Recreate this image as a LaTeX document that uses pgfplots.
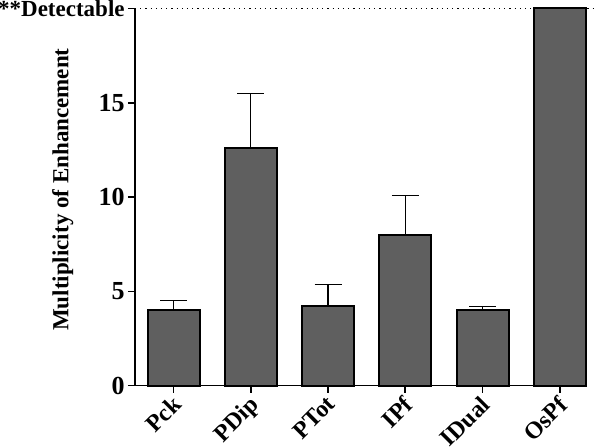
\documentclass[border=0pt]{standalone}
\usepackage{pgfplots}
\pgfplotsset{compat=1.18}
\usepackage{fontspec}
\setmainfont{Liberation Serif}
\definecolor{barfill}{HTML}{5F5F5F}
\begin{document}
\begin{tikzpicture}
\begin{axis}[
  at={(0,0)}, anchor=south west,
  scale only axis,
  width=225.5pt, height=188.6pt,
  xmin=-0.5, xmax=5.34,
  ymin=0, ymax=20,
  axis lines=left,
  axis line style={line width=0.8pt, -},
  clip=false,
  xtick={0,1,2,3,4,5},
  xticklabels={Pck,PDip,PTot,IPf,IDual,OsPf},
  ytick={0,5,10,15,20},
  yticklabels={0,5,10,15,{\fontsize{11.5}{13}\selectfont\raisebox{-2pt}{**Detectable}}},
  tick align=outside,
  major tick length=3.5pt,
  tick style={line width=0.8pt, black},
  /pgf/number format/assume math mode=true,
  tick label style={font=\fontsize{13}{15}\selectfont\bfseries},
  xticklabel style={font=\fontsize{12}{14}\selectfont\bfseries, rotate=45, anchor=north east, inner sep=1pt, xshift=-0.5pt, yshift=1.5pt},
  yticklabel style={inner sep=1.5pt},
  ylabel={Multiplicity of Enhancement},
  ylabel style={font=\fontsize{11.5}{13}\selectfont\bfseries, at={(axis description cs:-0.16,0.52)}, anchor=center},
]
\addplot[ybar, bar shift=0pt, bar width=26pt, fill=barfill, draw=black, line width=1pt,
  error bars/.cd, y dir=plus, y explicit,
  error bar style={line width=0.6pt, black},
  error mark options={rotate=90, line width=0.6pt, black, mark size=6.75pt}]
coordinates {
  (0,4.0) +- (0,0.5)
  (1,12.6) +- (0,2.9)
  (2,4.2) +- (0,1.15)
  (3,8.0) +- (0,2.1)
  (4,4.0) +- (0,0.22)
};
\addplot[ybar, bar shift=0pt, bar width=26pt, fill=barfill, draw=black, line width=1pt]
coordinates {(5,20.0)};
\draw[dotted, line width=0.6pt] (axis cs:-0.5,20) -- (axis cs:5.48,20);
\end{axis}
\pgfresetboundingbox
\path[use as bounding box] (-67.5pt,-31.15pt) rectangle (232.5pt,192.85pt);
\end{tikzpicture}
\end{document}
